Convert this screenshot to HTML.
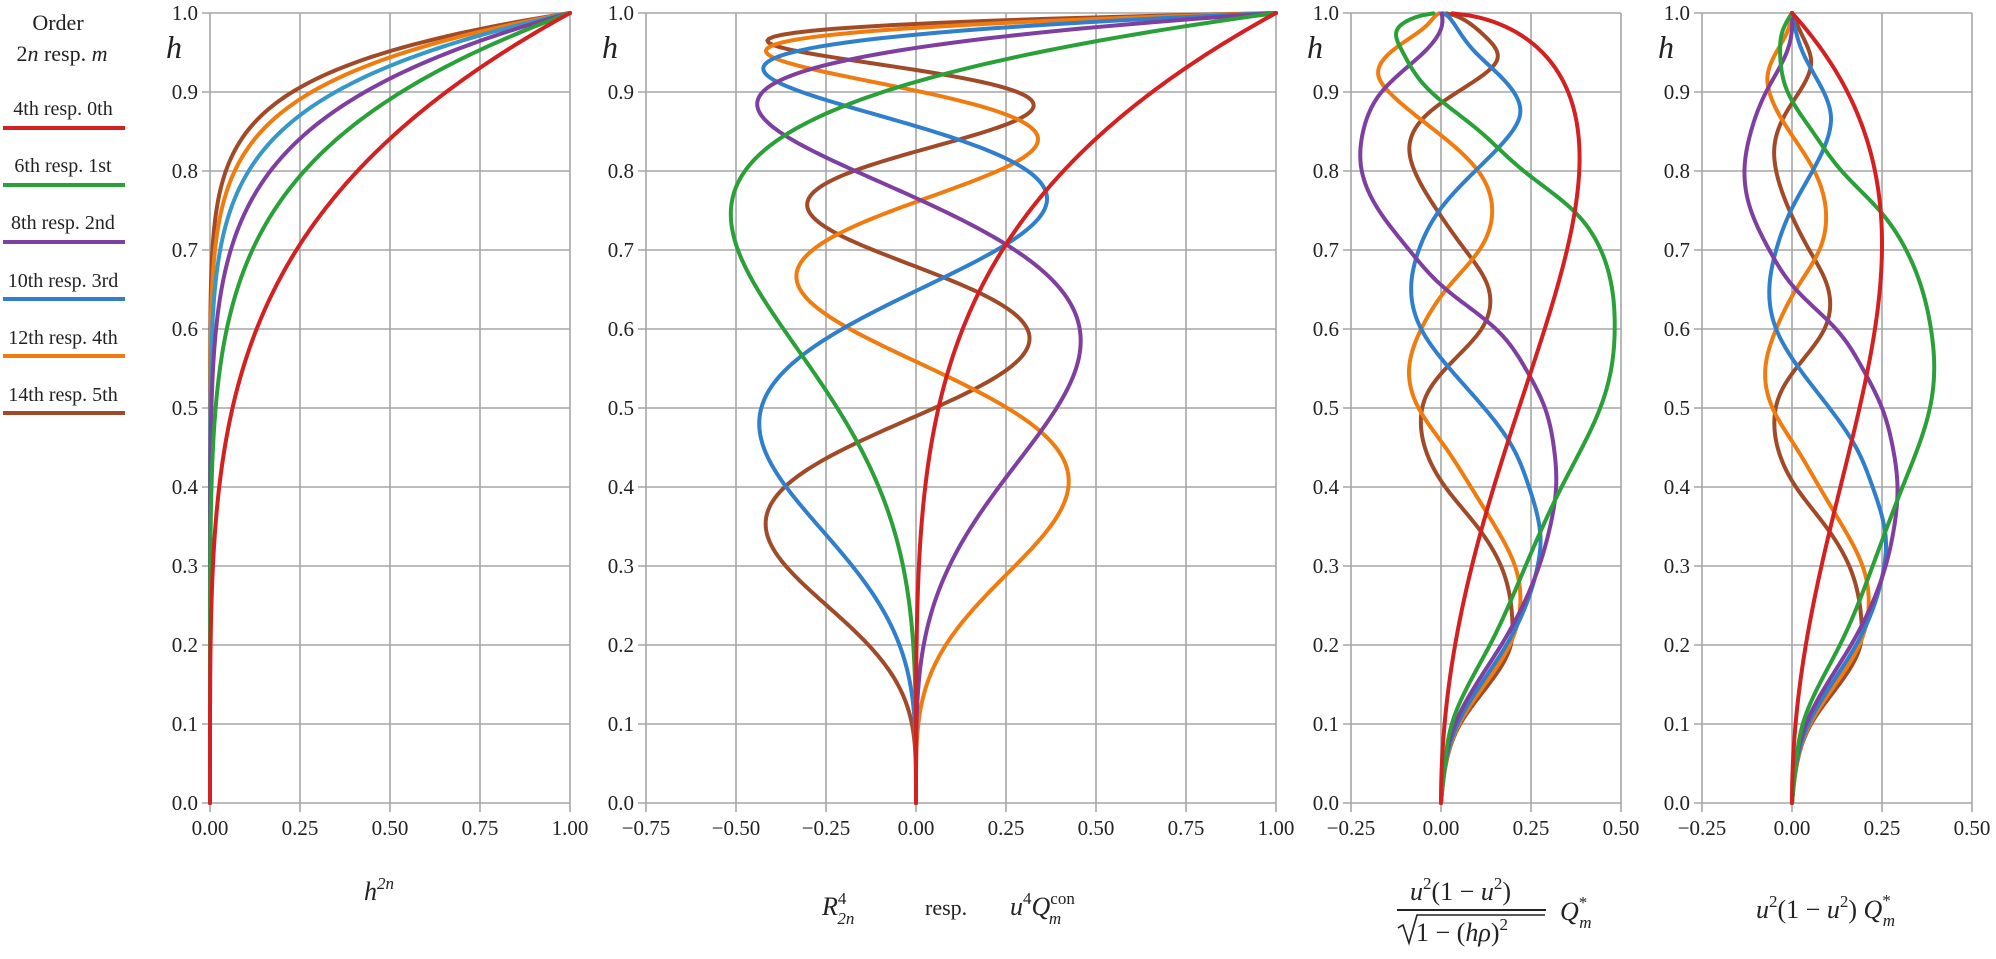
<!DOCTYPE html>
<html><head><meta charset="utf-8">
<style>
html,body{margin:0;padding:0;background:#fff;}
svg{display:block;}
text{font-family:"Liberation Serif",serif;fill:#222;}
</style></head>
<body>
<svg id="s" width="1996" height="959" viewBox="0 0 1996 959" xmlns="http://www.w3.org/2000/svg">
<g id="grid"></g>
<g id="curves" fill="none" stroke-width="4" stroke-linejoin="round" stroke-linecap="round"></g>
<g id="labels" font-size="21"></g>
<!-- legend -->
<g font-size="22" text-anchor="middle">
<text x="58" y="30">Order</text>
<text x="62" y="61">2<tspan font-style="italic">n</tspan> resp. <tspan font-style="italic">m</tspan></text>
</g>
<g font-size="20" text-anchor="middle">
<text x="63" y="115">4th resp. 0th</text>
<text x="63" y="172">6th resp. 1st</text>
<text x="63" y="229">8th resp. 2nd</text>
<text x="63" y="287">10th resp. 3rd</text>
<text x="63" y="344">12th resp. 4th</text>
<text x="63" y="401">14th resp. 5th</text>
</g>
<g stroke-width="4">
<line x1="3" x2="125" y1="128" y2="128" stroke="#d42020"/>
<line x1="3" x2="125" y1="185" y2="185" stroke="#2aa038"/>
<line x1="3" x2="125" y1="242" y2="242" stroke="#7e3fa0"/>
<line x1="3" x2="125" y1="299" y2="299" stroke="#2f7fcc"/>
<line x1="3" x2="125" y1="356" y2="356" stroke="#f07c10"/>
<line x1="3" x2="125" y1="413" y2="413" stroke="#a04a28"/>
</g>
<!-- captions -->
<g font-size="26" font-style="italic">
<text x="364" y="900">h<tspan font-size="17" dy="-11">2n</tspan></text>
<text x="822" y="915">R<tspan font-size="17" dy="-11" font-style="normal">4</tspan><tspan font-size="17" dx="-9" dy="20">2n</tspan></text>
<text x="925" y="915" font-style="normal" font-size="22">resp.</text>
<text x="1010" y="915">u<tspan font-size="17" dy="-11" font-style="normal">4</tspan><tspan dy="11">Q</tspan><tspan font-size="17" dy="-11" font-style="normal">con</tspan><tspan font-size="17" dx="-26" dy="20">m</tspan></text>
<text x="1410" y="900">u<tspan font-size="17" dy="-11" font-style="normal">2</tspan><tspan dy="11" font-style="normal">(1 − </tspan>u<tspan font-size="17" dy="-11" font-style="normal">2</tspan><tspan dy="11" font-style="normal">)</tspan></text>
<line x1="1397" x2="1546" y1="910" y2="910" stroke="#222" stroke-width="2"/>
<text x="1416" y="941" font-style="normal">1 − (<tspan font-style="italic">hρ</tspan>)<tspan font-size="17" dy="-11">2</tspan></text>
<path d="M1398 928 l5 -3 l6 18 l8 -28 h128" fill="none" stroke="#222" stroke-width="1.6"/>
<text x="1560" y="920">Q<tspan font-size="17" dy="-12" font-style="normal">*</tspan><tspan font-size="17" dx="-8" dy="20">m</tspan></text>
<text x="1756" y="918">u<tspan font-size="17" dy="-11" font-style="normal">2</tspan><tspan dy="11" font-style="normal">(1 − </tspan>u<tspan font-size="17" dy="-11" font-style="normal">2</tspan><tspan dy="11" font-style="normal">) </tspan>Q<tspan font-size="17" dy="-12" font-style="normal">*</tspan><tspan font-size="17" dx="-8" dy="20">m</tspan></text>
</g>
<g font-size="32" font-style="italic">
<text x="166" y="58">h</text>
<text x="602" y="58">h</text>
<text x="1307" y="58">h</text>
<text x="1658" y="58">h</text>
</g>
</svg>
<script>
var NS="http://www.w3.org/2000/svg";
var Y0=803,YS=790;
var panels=[
 {x0:210,zero:210,min:0,max:1,ticks:[0,0.25,0.5,0.75,1],fmt:2},
 {x0:646,zero:916,min:-0.75,max:1,ticks:[-0.75,-0.5,-0.25,0,0.25,0.5,0.75,1]},
 {x0:1351,zero:1441,min:-0.25,max:0.5,ticks:[-0.25,0,0.25,0.5]},
 {x0:1702,zero:1792,min:-0.25,max:0.5,ticks:[-0.25,0,0.25,0.5]}
];
var K=360;
function el(t,a,p){var e=document.createElementNS(NS,t);for(var k in a)e.setAttribute(k,a[k]);p.appendChild(e);return e;}
var grid=document.getElementById('grid'),lab=document.getElementById('labels'),cur=document.getElementById('curves');
panels.forEach(function(P){
 var x1=P.zero+K*P.min,x2=P.zero+K*P.max;
 for(var i=0;i<=10;i++){var y=Y0-YS*i/10;
  el('line',{x1:x1-8,x2:x2,y1:y,y2:y,stroke:'#a6a6a6','stroke-width':1.6},grid);
  var t=el('text',{x:x1-12,y:y+7,'text-anchor':'end'},lab);t.textContent=(i/10).toFixed(1);}
 P.ticks.forEach(function(v){var x=P.zero+K*v;
  el('line',{x1:x,x2:x,y1:Y0-YS,y2:Y0+9,stroke:'#a6a6a6','stroke-width':1.6},grid);
  var t=el('text',{x:x,y:835,'text-anchor':'middle'},lab);t.textContent=(v<0?'\u2212':'')+Math.abs(v).toFixed(2);});
});
var cols=['#d42020','#2aa038','#7e3fa0','#2f7fcc','#f07c10','#a04a28'];
function path(P,f,col,lo,hi){var d='';var N=400;
 for(var i=0;i<=N;i++){var h=lo+(hi-lo)*i/N;var v=f(h);if(!isFinite(v))continue;
  var x=P.zero+K*v,y=Y0-YS*h;d+=(d?'L':'M')+x.toFixed(2)+' '+y.toFixed(2);}
 el('path',{d:d,stroke:col},cur);}
var p1cols=['#d42020','#2aa038','#7e3fa0','#3598c6','#f07c10','#a04a28'];
for(var m=5;m>=0;m--){(function(n){path(panels[0],function(h){return Math.pow(h,n);},p1cols[n/2-2],0,1);})(2*m+4);}
function fact(n){var r=1;for(var i=2;i<=n;i++)r*=i;return r;}
function R(n,mm,r){var s=0;for(var k=0;k<=(n-mm)/2;k++){s+=Math.pow(-1,k)*fact(n-k)/(fact(k)*fact((n+mm)/2-k)*fact((n-mm)/2-k))*Math.pow(r,n-2*k);}return s;}
for(var m=5;m>=0;m--){(function(n,c){path(panels[1],function(h){return R(n,4,h);},c,0,1);})(2*m+4,cols[m]);}
var data=[
 null,
 [[0,0],[0.05,0.011],[0.1,0.03],[0.2,0.133],[0.3,0.224],[0.4,0.307],[0.5,0.383],[0.55,0.395],[0.6,0.386],[0.7,0.317],[0.75,0.243],[0.8,0.138],[0.85,0.057],[0.9,-0.012],[0.95,-0.033],[0.98,-0.024],[1,0]],
 [[0,0],[0.05,0.011],[0.1,0.039],[0.2,0.164],[0.3,0.26],[0.35,0.284],[0.4,0.293],[0.45,0.28],[0.5,0.25],[0.55,0.196],[0.6,0.122],[0.65,0.011],[0.7,-0.063],[0.75,-0.114],[0.8,-0.132],[0.85,-0.114],[0.9,-0.072],[0.95,-0.015],[0.98,0.0],[1,0]],
 [[0,0],[0.05,0.012],[0.1,0.046],[0.2,0.178],[0.25,0.228],[0.3,0.256],[0.33,0.261],[0.4,0.224],[0.45,0.178],[0.5,0.104],[0.55,0.02],[0.6,-0.044],[0.65,-0.063],[0.7,-0.044],[0.75,-0.003],[0.8,0.057],[0.85,0.104],[0.87,0.108],[0.9,0.088],[0.95,0.03],[1,0]],
 [[0,0],[0.05,0.013],[0.1,0.05],[0.2,0.187],[0.25,0.213],[0.3,0.196],[0.35,0.141],[0.4,0.076],[0.45,0.011],[0.5,-0.054],[0.55,-0.074],[0.6,-0.044],[0.65,0.011],[0.7,0.076],[0.75,0.094],[0.8,0.062],[0.85,-0.007],[0.9,-0.063],[0.92,-0.068],[0.95,-0.044],[0.98,-0.01],[1,0]],
 [[0,0],[0.05,0.014],[0.1,0.053],[0.2,0.19],[0.23,0.193],[0.3,0.159],[0.35,0.094],[0.4,0.011],[0.45,-0.04],[0.48,-0.049],[0.52,-0.031],[0.55,0.011],[0.6,0.09],[0.62,0.104],[0.66,0.094],[0.7,0.048],[0.75,-0.007],[0.8,-0.044],[0.83,-0.049],[0.87,-0.021],[0.9,0.02],[0.94,0.053],[0.97,0.03],[1,0]]
];
function spline(pts){var n=pts.length,x=pts.map(function(p){return p[0]}),y=pts.map(function(p){return p[1]});
 var h=[],al=[],l=[1],mu=[0],z=[0],c=new Array(n).fill(0),b=[],d=[];
 for(var i=0;i<n-1;i++)h[i]=x[i+1]-x[i];
 for(var i=1;i<n-1;i++)al[i]=3/h[i]*(y[i+1]-y[i])-3/h[i-1]*(y[i]-y[i-1]);
 for(var i=1;i<n-1;i++){l[i]=2*(x[i+1]-x[i-1])-h[i-1]*mu[i-1];mu[i]=h[i]/l[i];z[i]=(al[i]-h[i-1]*z[i-1])/l[i];}
 z[n-1]=0;c[n-1]=0;
 for(var j=n-2;j>=0;j--){c[j]=z[j]-mu[j]*c[j+1];b[j]=(y[j+1]-y[j])/h[j]-h[j]*(c[j+1]+2*c[j])/3;d[j]=(c[j+1]-c[j])/(3*h[j]);}
 return function(t){var j=0;while(j<n-2&&t>x[j+1])j++;var dx=t-x[j];return y[j]+b[j]*dx+c[j]*dx*dx+d[j]*dx*dx*dx;};}
var fs=[function(h){return h*h*(1-h*h);}];
for(var m=1;m<=5;m++)fs.push(spline(data[m]));
for(var m=5;m>=0;m--){(function(f,c){
 path(panels[3],f,c,0,1);
 path(panels[2],function(h){var s=Math.sqrt(Math.max(1e-6,1-h*h));var v=f(h)/s;return Math.max(-0.26,Math.min(0.5,v));},c,0,0.9995);
})(fs[m],cols[m]);}
</script>
</body></html>
